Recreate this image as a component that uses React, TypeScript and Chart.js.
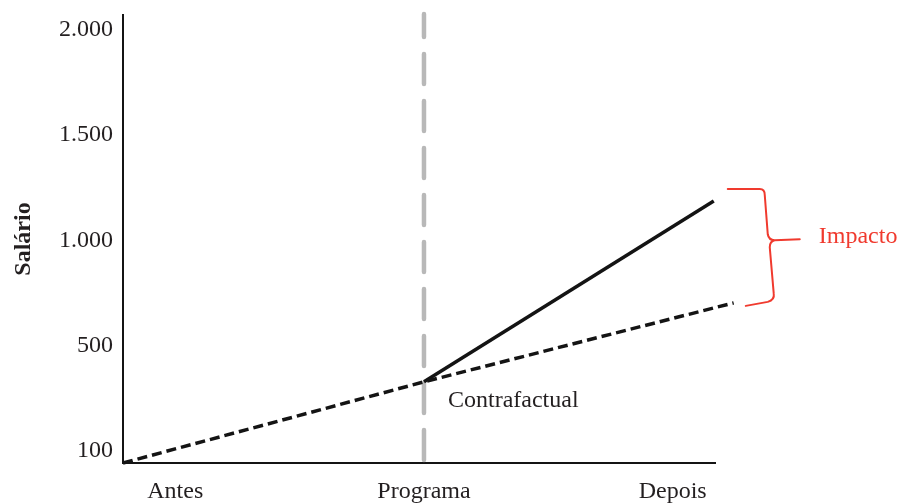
import React, { useEffect, useRef } from 'react';
import { Chart, registerables } from 'chart.js';

Chart.register(...registerables);

// ---- data ----
const periods = ['Antes', 'Programa', 'Depois'];
const periodPositions = [1, 2, 3];
const salaryTicks = [100, 500, 1000, 1500, 2000];
const xRange = [0.79, 3.17];
const salaryRange = [52, 2072];

const contrafactualX = [0.79, 2, 3.245];
const contrafactualY = [52, 361, 702];
const comProgramaX = [2, 3.165];
const comProgramaY = [361, 1187];

const contrafactualLabel = 'Contrafactual';
const impactoLabel = 'Impacto';
const yTitle = 'Salário';

const FONT = '"Liberation Serif", "Times New Roman", serif';
const TEXT = '#231f20';
const LINE = '#141414';
const RED = '#f03a2e';

// y axis of the picture is evenly spaced between its tick labels
function toLevel(v: number): number {
  const t = salaryTicks;
  let i = 0;
  while (i < t.length - 2 && v > t[i + 1]) i++;
  return i + (v - t[i]) / (t[i + 1] - t[i]);
}

function fmt(v: number): string {
  return String(v).replace(/\B(?=(\d{3})+(?!\d))/g, '.');
}

const annotations = {
  id: 'annotations',
  beforeDatasetsDraw(chart: any) {
    const { ctx, chartArea, scales } = chart;
    const px = scales.x.getPixelForValue(periodPositions[1]);
    ctx.save();
    ctx.strokeStyle = '#b8b8b8';
    ctx.lineWidth = 4.5;
    ctx.lineCap = 'round';
    ctx.setLineDash([30, 17]);
    ctx.lineDashOffset = 7;
    ctx.beginPath();
    ctx.moveTo(px, chartArea.top - 1);
    ctx.lineTo(px, chartArea.bottom + 2);
    ctx.stroke();
    ctx.restore();
  },
  afterDatasetsDraw(chart: any) {
    const { ctx, scales } = chart;
    const { x, y } = scales;
    const endTop = {
      x: x.getPixelForValue(comProgramaX[1]),
      y: y.getPixelForValue(toLevel(comProgramaY[1])),
    };
    const endBot = {
      x: x.getPixelForValue(contrafactualX[2]),
      y: y.getPixelForValue(toLevel(contrafactualY[2])),
    };
    const mid = {
      x: x.getPixelForValue(contrafactualX[1]),
      y: y.getPixelForValue(toLevel(contrafactualY[1])),
    };

    // brace
    const bx = endTop.x + 14;
    const top = endTop.y - 12;
    const bot = endBot.y;
    const m = top + 0.45 * (bot - top);
    ctx.save();
    ctx.strokeStyle = RED;
    ctx.lineWidth = 2;
    ctx.lineJoin = 'round';
    ctx.lineCap = 'round';
    ctx.beginPath();
    ctx.moveTo(bx, top);
    ctx.lineTo(bx + 32, top);
    ctx.quadraticCurveTo(bx + 37, top, bx + 37, top + 6);
    ctx.lineTo(bx + 40, m - 6);
    ctx.quadraticCurveTo(bx + 41, m, bx + 47, m);
    ctx.lineTo(bx + 72, m - 1);
    ctx.moveTo(bx + 47, m);
    ctx.quadraticCurveTo(bx + 42, m + 1, bx + 42, m + 7);
    ctx.lineTo(bx + 46, bot - 9);
    ctx.quadraticCurveTo(bx + 47, bot - 3, bx + 40, bot - 1);
    ctx.lineTo(bx + 18, bot + 3);
    ctx.stroke();

    ctx.font = `24px ${FONT}`;
    ctx.textBaseline = 'middle';
    ctx.textAlign = 'left';
    ctx.fillStyle = RED;
    ctx.fillText(impactoLabel, bx + 91, m - 4);

    ctx.fillStyle = TEXT;
    ctx.fillText(contrafactualLabel, mid.x + 24, mid.y + 19);
    ctx.restore();
  },
};

export default function App() {
  const canvasRef = useRef<HTMLCanvasElement | null>(null);

  useEffect(() => {
    const canvas = canvasRef.current;
    if (!canvas) return;
    const chart = new Chart(canvas, {
      type: 'line',
      data: {
        datasets: [
          {
            label: 'Contrafactual',
            data: contrafactualX.map((xv, i) => ({ x: xv, y: toLevel(contrafactualY[i]) })),
            borderColor: LINE,
            borderWidth: 3.5,
            borderDash: [10, 5],
            pointRadius: 0,
            tension: 0,
            clip: false as any,
            fill: false,
          },
          {
            label: 'Com programa',
            data: comProgramaX.map((xv, i) => ({ x: xv, y: toLevel(comProgramaY[i]) })),
            borderColor: LINE,
            borderWidth: 3.5,
            pointRadius: 0,
            tension: 0,
            clip: false as any,
            fill: false,
          },
        ],
      },
      options: {
        animation: false,
        responsive: false,
        devicePixelRatio: 1,
        layout: { padding: { top: 15, right: 185, left: 0, bottom: 0 } },
        plugins: {
          legend: { display: false },
          tooltip: { enabled: false },
        },
        scales: {
          x: {
            type: 'linear',
            min: xRange[0],
            max: xRange[1],
            grid: { display: false, drawTicks: false },
            border: { display: true, color: LINE, width: 2 },
            ticks: {
              autoSkip: false,
              maxRotation: 0,
              padding: 14,
              color: TEXT,
              font: { family: FONT, size: 24 },
              callback: (v: any) => {
                const i = periodPositions.indexOf(Number(v));
                return i >= 0 ? periods[i] : '';
              },
            },
            afterBuildTicks: (scale: any) => {
              scale.ticks = periodPositions.map((v) => ({ value: v }));
            },
            afterFit: (scale: any) => {
              scale.height = 40;
              scale.paddingLeft = 0;
              scale.paddingRight = 0;
            },
          },
          y: {
            type: 'linear',
            min: toLevel(salaryRange[0]),
            max: toLevel(salaryRange[1]),
            grid: { display: false, drawTicks: false },
            border: { display: true, color: LINE, width: 2 },
            title: {
              display: true,
              text: yTitle,
              color: TEXT,
              font: { family: FONT, size: 24, weight: 'bold' },
              padding: { top: 9, bottom: 0 },
            },
            ticks: {
              autoSkip: false,
              padding: 10,
              color: TEXT,
              font: { family: FONT, size: 24 },
              callback: (_v: any, index: number) => fmt(salaryTicks[index]),
            },
            afterBuildTicks: (scale: any) => {
              scale.ticks = salaryTicks.map((v) => ({ value: toLevel(v) }));
            },
            afterFit: (scale: any) => {
              scale.width = 123;
              scale.paddingTop = 0;
              scale.paddingBottom = 0;
            },
          },
        },
      } as any,
      plugins: [annotations],
    });
    return () => chart.destroy();
  }, []);

  return (
    <div style={{ position: 'fixed', left: 0, top: 0, width: 900, height: 503, background: '#fff' }}>
      <canvas ref={canvasRef} width={900} height={503} style={{ display: 'block' }} />
    </div>
  );
}
